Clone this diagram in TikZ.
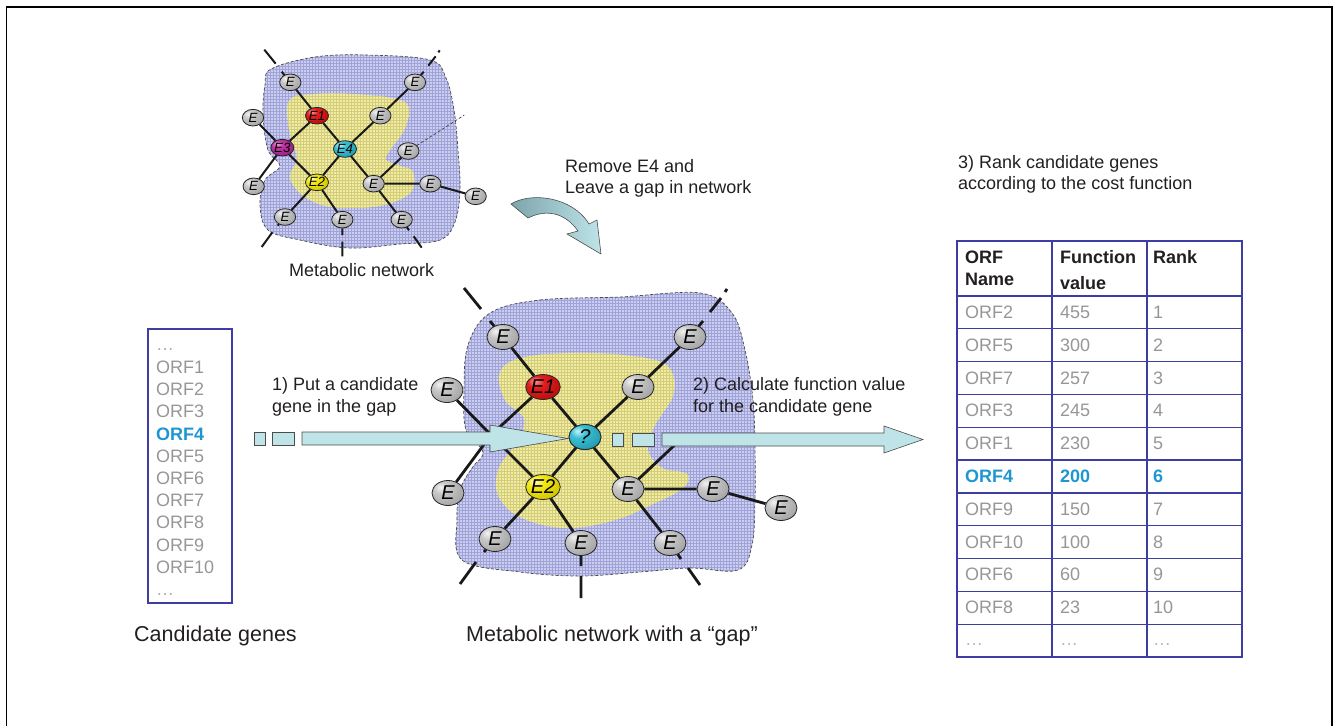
\documentclass[tikz,border=0pt]{standalone}
\usepackage{fontspec}
\setmainfont{Liberation Sans}
\usetikzlibrary{shapes.geometric,patterns,calc}
\definecolor{gH}{RGB}{242,242,242}\definecolor{gM}{RGB}{200,200,200}\definecolor{gD}{RGB}{160,160,160}\definecolor{gE}{RGB}{100,100,100}
\definecolor{rH}{RGB}{255,150,150}\definecolor{rM}{RGB}{225,30,30}\definecolor{rD}{RGB}{185,10,10}\definecolor{rE}{RGB}{110,0,0}
\definecolor{yH}{RGB}{255,255,195}\definecolor{yM}{RGB}{242,232,20}\definecolor{yD}{RGB}{205,192,0}\definecolor{yE}{RGB}{130,120,0}
\definecolor{cH}{RGB}{195,242,250}\definecolor{cM}{RGB}{60,192,212}\definecolor{cD}{RGB}{30,150,172}\definecolor{cE}{RGB}{10,90,110}
\definecolor{mH}{RGB}{242,165,222}\definecolor{mM}{RGB}{192,50,162}\definecolor{mD}{RGB}{150,30,125}\definecolor{mE}{RGB}{90,10,75}
\newcommand\mkball[2]{\pgfdeclareradialshading{#1}{\pgfpoint{-12bp}{12bp}}{color(0bp)=(#2H); color(12bp)=(#2M); color(38bp)=(#2D); color(62bp)=(#2E); color(100bp)=(#2E)}}
\mkball{gball}{g}\mkball{rball}{r}\mkball{yball}{y}\mkball{cball}{c}\mkball{mball}{m}
\definecolor{blobblue}{RGB}{204,206,238}
\definecolor{blobbluep}{RGB}{160,162,218}
\definecolor{blobyel}{RGB}{240,236,168}
\definecolor{blobyelp}{RGB}{212,205,120}
\definecolor{acyan}{RGB}{190,228,232}
\definecolor{adark}{RGB}{125,165,172}
\definecolor{tgray}{RGB}{150,150,150}
\definecolor{tblue}{RGB}{30,150,210}
\definecolor{tline}{RGB}{62,62,162}
\definecolor{txt}{RGB}{35,31,32}
\newcommand\myfs[1]{\fontsize{#1}{#1}\selectfont}
\newcommand\tg{\color{tgray}}
\newcommand\tb{\color{tblue}\bfseries}
\newcommand\netcore{%
 \node[enode] (TL) at (-82,-100) {E};
 \node[enode] (TR) at (105,-100) {E};
 \node[enode] (M) at (53,-50) {E};
 \node[enode] (LT) at (-138,-47) {E};
 \node[enode] (LB) at (-137,56) {E};
 \node[enode] (J) at (43,52) {E};
 \node[enode] (R) at (128,52) {E};
 \node[enode] (FR) at (196,71) {E};
 \node[enode] (BL) at (-90,102) {E};
 \node[enode] (BM) at (-4,106) {E};
 \node[enode] (BR) at (85,106) {E};
 \node[enode, shading=rball] (E1) at (-42,-50) {E1};
 \node[enode, shading=yball] (E2) at (-42,50) {E2};
 \draw[netline] (TL) -- (E1) (E1) -- (c) (c) -- (J) (J) -- (BR)
   (TR) -- (M) (M) -- (c) (c) -- (E2) (E2) -- (BL)
   (E1) -- (E3) (E3) -- (LB) (LT) -- (E3) (E3) -- (E2) (E2) -- (BM)
   (J) -- (D) (J) -- (R) (R) -- (FR);
 \draw[netline] (TL) -- (-95,-116) (-104,-128) -- (-121,-149)
   (TR) -- (118,-116) (125,-125) -- (136,-139) (140,-145) -- (142,-148)
   (BL) -- (-101,115) (-109,125) -- (-125,147)
   (BM) -- (-4,129) (-4,139) -- (-4,161)
   (BR) -- (96,122) (103,131) -- (115,148);
}
\begin{document}
\begin{tikzpicture}[x=1pt,y=-1pt,
  enode/.style={ellipse, draw=black!85, line width=0.8pt, minimum width=32pt, minimum height=25pt, inner sep=0pt, shading=gball, font=\myfs{20}\itshape},
  blueblob/.style={fill=blobblue, draw=black!70, line width=0.7pt, dash pattern=on 3pt off 2pt},
  yelblob/.style={fill=blobyel},
  bluetex/.style={pattern=grid, pattern color=blobbluep},
  yeltex/.style={pattern=grid, pattern color=blobyelp},
  blockarrow/.style={fill=acyan, draw=black!70, line width=0.6pt},
  lbl/.style={anchor=base west, inner sep=0pt, text=txt, font=\myfs{18}},
  captxt/.style={anchor=base west, inner sep=0pt, text=txt, font=\myfs{21.5}},
  cell/.style={anchor=base west, inner sep=0pt, font=\myfs{18}},
  hcell/.style={anchor=base west, inner sep=0pt, font=\myfs{18}\bfseries, text=txt},
  tbl/.style={draw=tline, line width=1.3pt}]
\useasboundingbox (0,0) rectangle (1336,726);
% frame
\draw[line width=1.6pt] (6.5,726) -- (6.5,7) -- (1332,7) -- (1332,726);

% ---------- small network blobs ----------
\def\sblue{(271,69) (315,57) (366,55) (430,60) (446,78) (454,110) (458,150) (460,190) (455,222) (440,240) (400,244) (349,248) (300,240) (268,230) (260,205) (265,180) (280,166) (268,150) (263,115) (265,85)}
\def\syel{(289,101) (315,94) (366,95) (406,103) (405,128) (390,150) (386,160) (400,166) (413,172) (410,193) (379,206) (332,207) (305,197) (290,178) (297,158) (290,135)}
\fill[blobblue] plot[smooth cycle, tension=0.6] coordinates {\sblue};
\fill[bluetex] plot[smooth cycle, tension=0.6] coordinates {\sblue};
\fill[yelblob] plot[smooth cycle, tension=0.6] coordinates {\syel};
\fill[yeltex] plot[smooth cycle, tension=0.6] coordinates {\syel};
\draw[blueblob, fill=none] plot[smooth cycle, tension=0.6] coordinates {\sblue};

% ---------- large network blobs ----------
\def\lblue{(490,313) (540,300) (620,297) (700,293) (732,313) (745,350) (753,400) (755,450) (755,500) (752,545) (738,570) (690,568) (640,572) (580,576) (520,572) (462,560) (457,520) (460,490) (472,468) (483,452) (466,430) (464,390) (468,345)}
\def\lyel{(500,372) (525,357) (590,353) (655,360) (673,375) (672,398) (655,425) (648,450) (662,468) (687,474) (683,488) (655,503) (615,520) (565,528) (520,517) (498,495) (499,468) (518,440) (524,418) (505,400)}
\fill[blobblue] plot[smooth cycle, tension=0.6] coordinates {\lblue};
\fill[bluetex] plot[smooth cycle, tension=0.6] coordinates {\lblue};
\fill[yelblob] plot[smooth cycle, tension=0.6] coordinates {\lyel};
\fill[yeltex] plot[smooth cycle, tension=0.6] coordinates {\lyel};
\draw[blueblob, fill=none] plot[smooth cycle, tension=0.6] coordinates {\lblue};

% ---------- small network ----------
\begin{scope}[shift={(345,149)}, scale=2/3, transform shape, name prefix=s-,
  netline/.style={line width=2pt, draw=black!90}]
 \node[enode, shading=cball] (c) at (0,0) {E4};
 \node[enode, shading=mball] (E3) at (-94,-2) {E3};
 \node[enode] (D) at (95,3) {E};
 \netcore
 \draw[black!75, line width=0.7pt, dash pattern=on 3pt off 2pt] (D) -- (179,-51);
\end{scope}

% ---------- large network ----------
\begin{scope}[shift={(585,437)}, name prefix=L-,
  netline/.style={line width=2.8pt, draw=black!90}]
 \node[enode, shading=cball] (c) at (0,0) {?};
 \coordinate (E3) at (-94,-2);
 \coordinate (D) at (95,3);
 \netcore
\end{scope}

% ---------- block arrows ----------
\draw[blockarrow] (254,432) rectangle (265,445);
\draw[blockarrow] (272,432) rectangle (294,445);
\draw[blockarrow] (302,432) -- (490,432) -- (490,425) -- (568,438.5) -- (490,452) -- (490,445) -- (302,445) -- cycle;
\draw[blockarrow] (612,433) rectangle (623,446);
\draw[blockarrow] (632,433) rectangle (654,446);
\draw[blockarrow] (662,433) -- (884,433) -- (884,426) -- (923,439.5) -- (884,453) -- (884,446) -- (662,446) -- cycle;
% centre node on top of arrow tip
\node[enode, shading=cball] (qmark) at (585,437) {?};

% curved arrow
\draw[left color=adark, right color=acyan, draw=black!70, line width=0.6pt]
  (511,204) .. controls (530,192) and (572,196) .. (589,224) -- (597,220) -- (601,254) -- (567,234) -- (578,231)
  .. controls (566,214) and (548,208) .. (528,218) -- cycle;

% ---------- labels ----------
\node[lbl] (mn) at (289,276) {Metabolic network};
\node[lbl] (rm1) at (565,172) {Remove E4 and};
\node[lbl] (rm2) at (565,193) {Leave a gap in network};
\node[lbl] (rk1) at (958,168) {3) Rank candidate genes};
\node[lbl] (rk2) at (958,189) {according to the cost function};
\node[lbl] (pt1) at (272,390) {1) Put a candidate};
\node[lbl] (pt2) at (272,412) {gene in the gap};
\node[lbl] (cl1) at (693,390) {2) Calculate function value};
\node[lbl] (cl2) at (693,412) {for the candidate gene};
\node[captxt] (cg) at (134,641) {Candidate genes};
\node[captxt] (mg) at (466,641) {Metabolic network with a “gap”};

% ---------- candidate list ----------
\draw[draw=tline, line width=1.2pt] (148,329) rectangle (232,603);
\node[cell, text=tgray!80] (ld0) at (156,350) {…};
\foreach \i in {1,2,3,5,6,7,8,9,10}
  \node[cell, text=tgray] (li\i) at (156,{373.5+22.2*(\i-1)}) {ORF\i};
\node[cell, text=tblue, font=\myfs{18}\bfseries] (li4) at (156,{373.5+22.2*3}) {ORF4};
\node[cell, text=tgray!80] (ld1) at (156,595) {…};

% ---------- table ----------
\draw[tbl] (957,241) rectangle (1242,657);
\draw[tbl] (1052,241) -- (1052,657) (1147,241) -- (1147,657);
\foreach \k in {0,...,10}
  \draw[tbl] (957,{296+32.82*\k}) -- (1242,{296+32.82*\k});
\node[hcell] (h1a) at (965,263) {ORF};
\node[hcell] (h1b) at (965,285) {Name};
\node[hcell] (h2a) at (1060,263) {Function};
\node[hcell] (h2b) at (1060,289) {value};
\node[hcell] (h3a) at (1153,263) {Rank};
\foreach \n/\v/\r/\s [count=\i] in {ORF2/455/1/\tg, ORF5/300/2/\tg, ORF7/257/3/\tg, ORF3/245/4/\tg, ORF1/230/5/\tg, ORF4/200/6/\tb, ORF9/150/7/\tg, ORF10/100/8/\tg, ORF6/60/9/\tg, ORF8/23/10/\tg}{
  \node[cell] (ta\i) at (965,{296+32.82*(\i-0.5)+6}) {\s \n};
  \node[cell] (tb\i) at (1060,{296+32.82*(\i-0.5)+6}) {\s \v};
  \node[cell] (tc\i) at (1153,{296+32.82*(\i-0.5)+6}) {\s \r};
}
\node[cell, text=tgray!70] (ta11) at (965,{296+32.82*10.5+5}) {…};
\node[cell, text=tgray!70] (tb11) at (1060,{296+32.82*10.5+5}) {…};
\node[cell, text=tgray!70] (tc11) at (1153,{296+32.82*10.5+5}) {…};
\end{tikzpicture}
\end{document}
